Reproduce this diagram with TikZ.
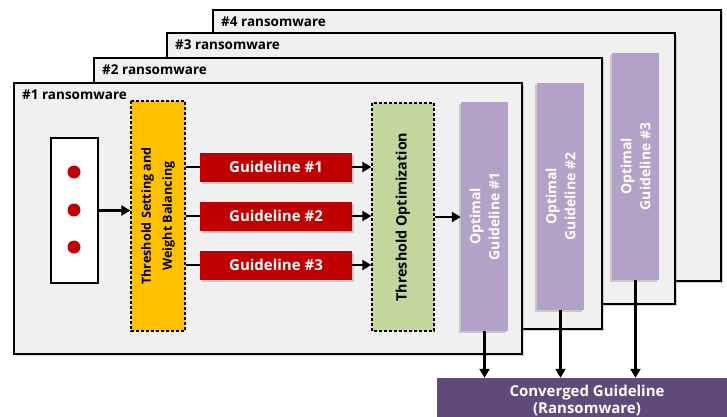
\documentclass[tikz,border=0pt]{standalone}
\usepackage{fontspec}
\setmainfont{Open Sans}
\usetikzlibrary{arrows.meta,shadows}
\definecolor{panelgray}{HTML}{F0F0F0}
\definecolor{guidered}{HTML}{C00000}
\definecolor{setyellow}{HTML}{FFC000}
\definecolor{optgreen}{HTML}{C3D69B}
\definecolor{optpurple}{HTML}{B3A2C7}
\definecolor{convpurple}{HTML}{604A7B}
\tikzset{
  panel/.style={draw, line width=1.8pt, fill=panelgray, anchor=north west, inner sep=0pt,
    minimum width=508, minimum height=271,
    drop shadow={opacity=0.35, shadow xshift=2.5pt, shadow yshift=-2.5pt}},
  plabel/.style={anchor=west, inner sep=0pt, font=\bfseries\fontsize{13.5}{15}\selectfont},
  dotbox/.style={draw, line width=1.6pt, fill=white, minimum width=47, minimum height=145},
  dot/.style={circle, fill=guidered, inner sep=0pt, minimum size=13},
  setbox/.style={draw, dash pattern=on 3pt off 2pt, line width=1.3pt, fill=setyellow, rotate=90,
    align=center, minimum width=230, minimum height=54, inner sep=0pt,
    font=\bfseries\fontsize{12.6}{21}\selectfont},
  guide/.style={fill=guidered, text=white, minimum width=152, minimum height=29, inner sep=0pt,
    font=\bfseries\fontsize{15}{16}\selectfont,
    drop shadow={opacity=0.35, shadow xshift=2pt, shadow yshift=-2pt}},
  optbox/.style={draw, dash pattern=on 3pt off 2pt, line width=1.3pt, fill=optgreen, rotate=90,
    minimum width=228, minimum height=62, inner sep=0pt,
    font=\bfseries\fontsize{14.3}{16}\selectfont},
  optimal/.style={fill=optpurple, text=white, rotate=90, align=center,
    minimum height=47, inner sep=0pt, font=\bfseries\fontsize{14}{19}\selectfont,
    drop shadow={opacity=0.35, shadow xshift=-2pt, shadow yshift=-2pt}},
  conv/.style={fill=convpurple, text=white, align=center, minimum width=300, minimum height=44,
    inner sep=0pt, font=\bfseries\fontsize{15}{17}\selectfont},
  link/.style={line width=2.4pt}
}
\begin{document}
\begin{tikzpicture}[x=1pt,y=-1pt,>={Triangle[length=9pt,width=10pt]}]
  \clip (0,0) rectangle (727,416);
  % stacked panels, back to front
  \foreach \n/\x/\y in {4/212/9,3/166/32,2/93/57,1/13/82} {
    \node[panel] (panel\n) at (\x,\y) {};
    \node[plabel] (plabel\n) at (\x+9,\y+13) {\#\n{} ransomware};
  }
  % inputs
  \node[dotbox] (src) at (74.5,210.5) {};
  \foreach \k/\y in {1/172,2/210,3/247} \node[dot] (dot\k) at (74,\y) {};
  \node[setbox] (setting) at (158,216) {Threshold Setting and\\Weight Balancing};
  \foreach \k/\y in {1/167,2/216,3/265} \node[guide] (guide\k) at (276,\y) {Guideline \#\k};
  \node[optbox] (opt) at (403,217) {Threshold Optimization};
  % optimal guidelines
  \node[optimal, minimum width=229] (best1) at (484.5,216.5) {Optimal\\Guideline \#1};
  \node[optimal, minimum width=227] (best2) at (560.5,196.5) {Optimal\\Guideline \#2};
  \node[optimal, minimum width=227] (best3) at (635.5,166.5) {Optimal\\Guideline \#3};
  \node[conv] (conv) at (587,400) {Converged Guideline\\(Ransomware)};
  % connectors
  \draw[link,->] (src.east) -- (src.east -| setting.north);
  \foreach \k in {1,2,3} {
    \draw[link] (guide\k.west -| setting.south) -- (guide\k.west);
    \draw[link,->] (guide\k.east) -- (guide\k.east -| opt.north);
    \draw[link,->] (best\k.west) -- (best\k.west |- conv.north);
  }
  \draw[link,->] (opt.south) -- (opt.south -| best1.north);
\end{tikzpicture}
\end{document}
